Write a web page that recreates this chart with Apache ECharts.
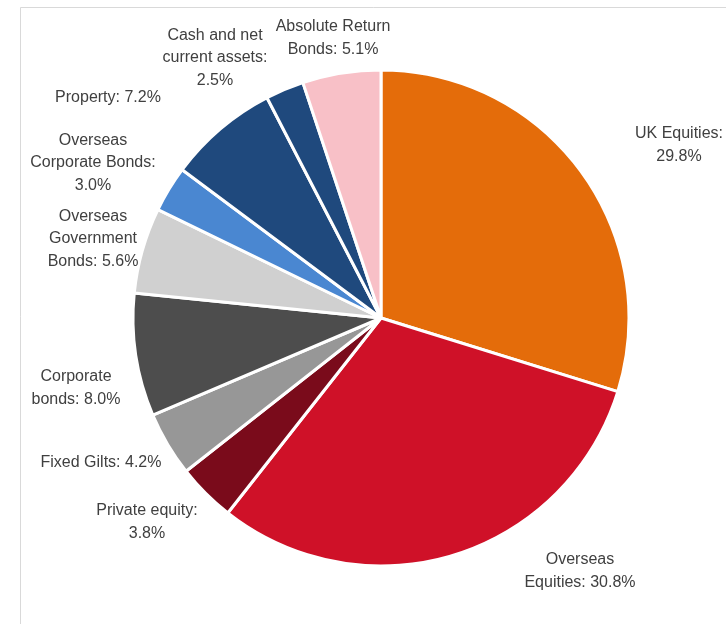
<!DOCTYPE html>
<html><head><meta charset="utf-8">
<script src="https://cdn.jsdelivr.net/npm/echarts@6/dist/echarts.min.js"></script>
<style>html,body{margin:0;padding:0;background:#fff}#c{width:726px;height:624px}</style>
</head><body><div id="c"></div>
<script>
const categories = ["UK Equities","Overseas Equities","Private equity","Fixed Gilts","Corporate bonds","Overseas Government Bonds","Overseas Corporate Bonds","Property","Cash and net current assets","Absolute Return Bonds"];
const values = [29.8,30.8,3.8,4.2,8.0,5.6,3.0,7.2,2.5,5.1];
const labelTexts = ["UK Equities:\n29.8%","Overseas\nEquities: 30.8%","Private equity:\n3.8%","Fixed Gilts: 4.2%","Corporate\nbonds: 8.0%","Overseas\nGovernment\nBonds: 5.6%","Overseas\nCorporate Bonds:\n3.0%","Property: 7.2%","Cash and net\ncurrent assets:\n2.5%","Absolute Return\nBonds: 5.1%"];
const colors = ["#E46C0A","#CF1128","#7A0B1B","#979797","#4D4D4D","#D0D0D0","#4A87D1","#1F497D","#1F497D","#F8C0C7"];
const labelPos = [[679,145],[580,571],[147,522],[101,463],[76,388],[93,239],[93,163],[108,98],[215,58],[333,38]];

const chart = echarts.init(document.getElementById('c'));
chart.setOption({
  animation:false,
  backgroundColor:'#fff',
  graphic:[{type:'rect',shape:{x:20.5,y:7.5,width:800,height:700},style:{fill:'none',stroke:'#D9D9D9',lineWidth:1},silent:true}],
  series:[{
    type:'pie',
    center:[381,318],
    radius:[0,248],
    startAngle:90,
    clockwise:true,
    avoidLabelOverlap:false,
    itemStyle:{borderColor:'#fff',borderWidth:3},
    label:{show:true,position:'outside',formatter:p=>labelTexts[p.dataIndex],color:'#404040',fontFamily:'Liberation Sans, Arial, sans-serif',fontSize:16,lineHeight:22.5,align:'center',verticalAlign:'middle'},
    labelLine:{show:false},
    labelLayout:function(params){const p=labelPos[params.dataIndex];return {x:p[0],y:p[1],align:'center',verticalAlign:'middle'};},
    emphasis:{disabled:true},
    data:categories.map((c,i)=>({name:c,value:values[i],itemStyle:{color:colors[i]}}))
  }]
});
</script></body></html>
